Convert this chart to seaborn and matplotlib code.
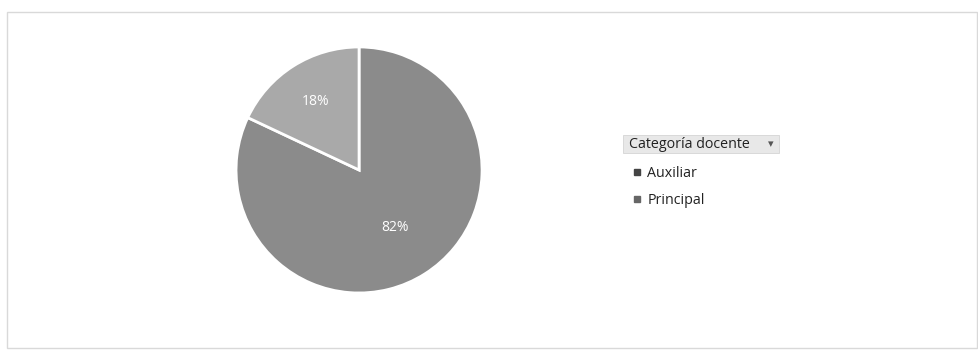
import matplotlib
matplotlib.use("Agg")
import matplotlib.pyplot as plt
import seaborn as sns
from matplotlib.patches import Rectangle
from matplotlib.lines import Line2D

categories = ["Auxiliar", "Principal"]
values = [82, 18]
legend_title = "Categoría docente"
colors = ["#8b8b8b", "#a9a9a9"]

sns.set_theme(style="white")
plt.rcParams['font.family'] = ['Open Sans', 'DejaVu Sans']

fig = plt.figure(figsize=(9.79, 3.51), dpi=100)
fig.patch.set_facecolor("white")

# outer frame
fig.patches.append(Rectangle((7/979, 1 - 348/351), (977-7)/979, (348-12)/351,
                             transform=fig.transFigure, fill=False,
                             edgecolor="#d9d9d9", linewidth=1.0))

ax = fig.add_axes([0.2411, 0.1653, 0.2513, 0.7009])
wedges, texts, autotexts = ax.pie(values, colors=colors, startangle=90,
                                  counterclock=False, autopct="%1.0f%%",
                                  pctdistance=0.6,
                                  wedgeprops=dict(edgecolor="white", linewidth=2),
                                  textprops=dict(color="white", fontsize=10))
ax.set_xlim(-1, 1)
ax.set_ylim(-1, 1)
ax.set_aspect("equal")
ax.axis("off")

# adjust label distances
dists = [0.55, 0.66]
for t, d in zip(autotexts, dists):
    x, y = t.get_position()
    r = (x**2 + y**2) ** 0.5
    t.set_position((x / r * d, y / r * d))

# legend header
fig.patches.append(Rectangle((623/979, 1 - 153/351), (779-623)/979, (153-135)/351,
                             transform=fig.transFigure, facecolor="#e8e8e8",
                             edgecolor="#d4d4d4", linewidth=0.6))
fig.text(629/979, 1 - 144/351, legend_title, fontsize=10.3, color="#222222",
         va="center", ha="left")
fig.text(771/979, 1 - 144/351, "▾", fontsize=8, color="#555555",
         va="center", ha="center", family=['DejaVu Sans'])

handles = [Line2D([0], [0], marker="s", linestyle="none", markersize=4,
                  markerfacecolor=c, markeredgecolor=c) for c in ["#444444", "#666666"]]
leg = fig.legend(handles, categories, loc="upper left",
                 bbox_to_anchor=(626/979, 1 - 159/351), frameon=False,
                 fontsize=10.3, handlelength=0.6, handletextpad=0.4,
                 labelspacing=0.85, borderpad=0)
for t in leg.get_texts():
    t.set_color("#222222")

fig.savefig("out.png", dpi=100)
